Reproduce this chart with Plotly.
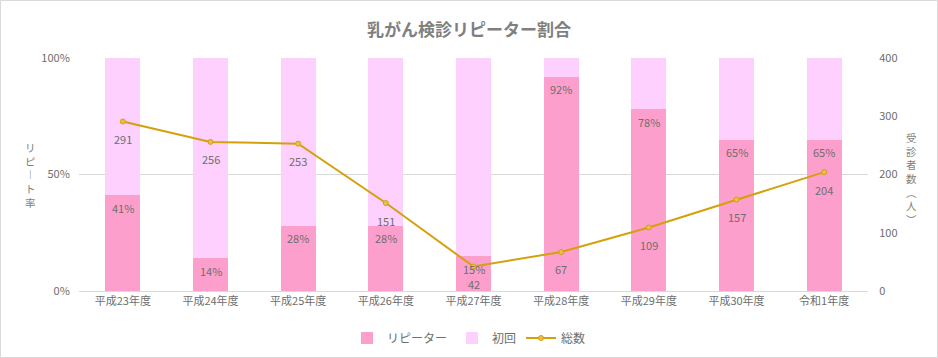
import plotly.graph_objects as go

categories = ["平成23年度", "平成24年度", "平成25年度", "平成26年度", "平成27年度",
              "平成28年度", "平成29年度", "平成30年度", "令和1年度"]
repeat_pct = [41, 14, 28, 28, 15, 92, 78, 65, 65]
first_pct = [100 - v for v in repeat_pct]
totals = [291, 256, 253, 151, 42, 67, 109, 157, 204]

FONT = "Noto Sans CJK JP"
GRAY = "#7f7f7f"
LABEL = "#6e6e6e"

W, H = 938, 358
ML, MR, MT, MB = 79, 70, 58, 67
PW, PH = W - ML - MR, H - MT - MB

fig = go.Figure()
fig.add_trace(go.Bar(
    x=categories, y=[v / 100 for v in repeat_pct], name="リピーター",
    marker=dict(color="#fd9fcc", line=dict(width=0)),
    width=0.4,
))
fig.add_trace(go.Bar(
    x=categories, y=[v / 100 for v in first_pct], name="初回",
    marker=dict(color="#fdd0fd", line=dict(width=0)),
    width=0.4, hoverinfo="skip",
))
fig.add_trace(go.Scatter(
    x=categories, y=totals, name="総数", yaxis="y2",
    mode="lines+markers",
    line=dict(color="#d4a00c", width=2),
    marker=dict(size=5, color="#e8bf50", line=dict(color="#d4a00c", width=1)),
))

# percentage labels inside the repeater bars
for c, v in zip(categories, repeat_pct):
    fig.add_annotation(x=c, y=v / 100, xref="x", yref="y", text=f"{v}%",
                       showarrow=False, yshift=-12.5, yanchor="middle", borderpad=0,
                       font=dict(size=11, color=LABEL, family=FONT))
# count labels below the line markers
for c, v in zip(categories, totals):
    fig.add_annotation(x=c, y=v, xref="x", yref="y2", text=str(v),
                       showarrow=False, yshift=-17.5, yanchor="middle", borderpad=0,
                       font=dict(size=11, color=LABEL, family=FONT))

fig.update_layout(
    width=W, height=H,
    margin=dict(l=ML, r=MR, t=MT, b=MB, autoexpand=False),
    paper_bgcolor="white", plot_bgcolor="white",
    barmode="stack", bargap=0.6,
    font=dict(family=FONT, color=GRAY, size=11),
    title=dict(text="<b>乳がん検診リピーター割合</b>", x=0.5, xanchor="center",
               xref="container", yref="container",
               y=1 - 30 / H, yanchor="middle", automargin=False,
               font=dict(size=17, color=GRAY, family=FONT)),
    xaxis=dict(showgrid=False, showline=True, linecolor="#d9d9d9", ticks="",
               automargin=False,
               tickfont=dict(size=11, color=LABEL, family=FONT)),
    yaxis=dict(range=[0, 1], tickvals=[0, 0.5, 1], ticktext=["0%", "50%", "100%"],
               showgrid=True, gridcolor="#d9d9d9", zeroline=False, automargin=False,
               tickfont=dict(size=11, color=LABEL), ticklen=6, ticks="outside",
               tickcolor="white"),
    yaxis2=dict(range=[0, 400], tickvals=[0, 100, 200, 300, 400], overlaying="y",
                side="right", showgrid=False, zeroline=False, automargin=False,
                tickfont=dict(size=11, color=LABEL), ticks="outside",
                tickcolor="white", ticklen=8),
    legend=dict(orientation="h", x=0.5, xanchor="center", xref="container",
                yref="container", y=20 / H, yanchor="middle",
                font=dict(size=12, color=LABEL, family=FONT), traceorder="normal"),
    showlegend=True,
)


def px_to_paper_y(py):
    return (MT + PH - py) / PH


def px_to_paper_x(px):
    return (px - ML) / PW


# vertical axis titles, one character per line
fig.add_annotation(text="リ<br>ピ<br>︱<br>ト<br>率", xref="paper", yref="paper",
                   x=px_to_paper_x(30), y=px_to_paper_y(175),
                   xanchor="center", yanchor="middle", showarrow=False,
                   font=dict(size=10.5, color=GRAY, family=FONT))
fig.add_annotation(text="受<br>診<br>者<br>数<br>︵<br>人<br>︶", xref="paper", yref="paper",
                   x=px_to_paper_x(911), y=px_to_paper_y(178),
                   xanchor="center", yanchor="middle", showarrow=False,
                   font=dict(size=10.5, color=GRAY, family=FONT))

# chart border
fig.add_shape(type="rect", xref="paper", yref="paper",
              x0=(0.5 - ML) / PW, x1=(W - 0.5 - ML) / PW,
              y0=px_to_paper_y(H - 0.5), y1=px_to_paper_y(0.5),
              line=dict(color="#d9d9d9", width=1), layer="below")

fig.write_html("out.html", config={"displayModeBar": False},
               post_script="document.body.style.margin='0';document.body.style.overflow='hidden';")
